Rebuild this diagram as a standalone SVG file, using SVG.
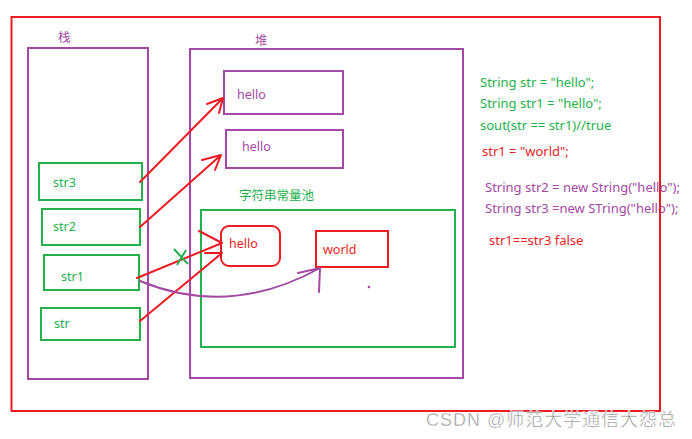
<svg xmlns="http://www.w3.org/2000/svg" width="692" height="439" viewBox="0 0 692 439">
<style>
.r{fill:none;stroke:#ED1C24;stroke-width:2}
.g{fill:none;stroke:#22B14C;stroke-width:2}
.p{fill:none;stroke:#A349A4;stroke-width:2}
text{font-family:"Noto Sans","Noto Sans CJK SC",sans-serif;font-size:12.5px}
.c{font-size:13px}
.tg{fill:#22B14C}.tr{fill:#ED1C24}.tp{fill:#A349A4}
.ar{fill:none;stroke:#ED1C24;stroke-width:2;stroke-linecap:round;stroke-linejoin:round}
</style>
<rect width="692" height="439" fill="#fff"/>
<g id="code">
<text class="tg c" x="480" y="87">String str = "hello";</text>
<text class="tg c" x="480" y="108">String str1 = "hello";</text>
<text class="tg c" x="480" y="130">sout(str == str1)//true</text>
<text class="tr c" x="482" y="156">str1 = "world";</text>
<text class="tp c" x="485" y="192">String str2 = new String("hello");</text>
<text class="tp c" x="485" y="213">String str3 =new STring("hello");</text>
<text class="tr c" x="489" y="245">str1==str3 false</text>
</g>
<rect id="frame" class="r" x="11.5" y="17" width="648.5" height="394"/>
<g id="stack">
<rect class="p" x="28" y="48" width="120" height="331"/>
<text class="tp" x="58" y="42">栈</text>
</g>
<g id="heap">
<rect class="p" x="190" y="49" width="273" height="329"/>
<text class="tp" x="255" y="45">堆</text>
</g>
<g id="heap-hello1">
<rect class="p" x="224" y="71" width="119" height="43"/>
<text class="tp" x="237" y="99">hello</text>
</g>
<g id="heap-hello2">
<rect class="p" x="226" y="130" width="117" height="38"/>
<text class="tp" x="242" y="151">hello</text>
</g>
<g id="pool">
<text class="tg" x="239" y="200">字符串常量池</text>
<rect class="g" x="201" y="210" width="254" height="137"/>
</g>
<g id="pool-hello">
<rect class="r" x="221" y="226" width="59" height="40" rx="8"/>
<text class="tr" x="229" y="248">hello</text>
</g>
<g id="pool-world">
<rect class="r" x="316" y="231" width="72" height="36"/>
<text class="tr" x="323" y="254">world</text>
</g>
<g id="str3"><rect class="g" x="39" y="163" width="103" height="37"/><text class="tg" x="53" y="187">str3</text></g>
<g id="str2"><rect class="g" x="42" y="209" width="98" height="36"/><text class="tg" x="53" y="231">str2</text></g>
<g id="str1"><rect class="g" x="44" y="255" width="95" height="35"/><text class="tg" x="61" y="281">str1</text></g>
<g id="str"><rect class="g" x="41" y="308" width="99" height="32"/><text class="tg" x="54" y="328">str</text></g>
<g id="connectors">
<path class="ar" d="M140,182 L223,98 M207,104 L223,98 L219,113"/>
<path class="ar" d="M140,227 L221,155 M202,160 L221,155 L215,170"/>
<path class="ar" d="M137,278 L222,243 M199,231 L222,243"/>
<path class="ar" d="M140,321 L222,253 M205,253 L222,253"/>
<path fill="none" stroke="#A349A4" stroke-width="2" stroke-linecap="round" d="M140,281 Q230,318 320,268 M298,273 L320,268 L319,292"/>
<path fill="none" stroke="#22B14C" stroke-width="2" d="M174,249 L188,264 M186,250 L177,265"/>
<circle cx="369" cy="287" r="1.3" fill="#A349A4"/>
</g>
<text x="426" y="426" textLength="250" lengthAdjust="spacing" fill="#999" stroke="#fff" stroke-width="0.4" style="font-size:18px;font-family:'Liberation Sans','Noto Sans CJK SC',sans-serif">CSDN @师范大学通信大怨总</text>
</svg>
